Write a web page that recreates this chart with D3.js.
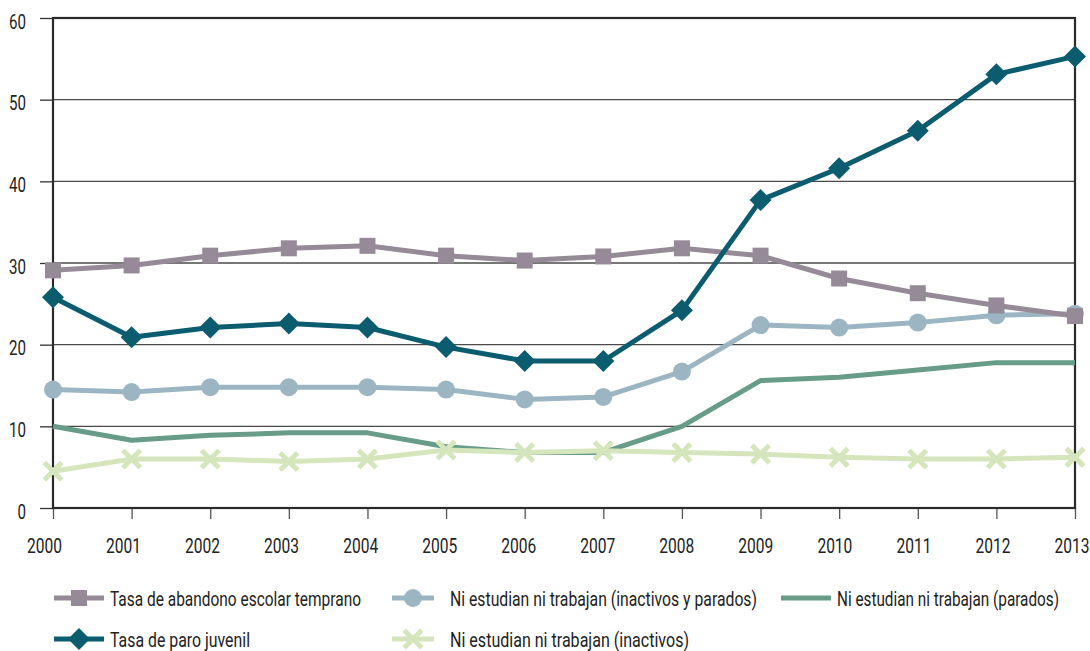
<!DOCTYPE html>
<html><head><meta charset="utf-8">
<script src="https://cdn.jsdelivr.net/npm/d3@7"></script>
<style>
html,body{margin:0;padding:0;background:#fff;}
svg text{font-family:Roboto,"DejaVu Sans Condensed",sans-serif;fill:#222;}
</style></head>
<body><svg id="c" width="1090" height="651"></svg>
<script>
const years = [2000,2001,2002,2003,2004,2005,2006,2007,2008,2009,2010,2011,2012,2013];
const yTicks = [0,10,20,30,40,50,60];
const abandono = [29.1,29.7,30.9,31.8,32.1,30.9,30.3,30.8,31.8,30.9,28.1,26.3,24.8,23.5];
const paro = [25.8,20.9,22.1,22.6,22.1,19.7,18.0,18.0,24.2,37.7,41.6,46.2,53.1,55.3];
const ninisTotal = [14.5,14.2,14.8,14.8,14.8,14.5,13.3,13.6,16.7,22.4,22.1,22.7,23.6,23.8];
const ninisParados = [10.0,8.3,8.9,9.2,9.2,7.5,6.8,6.8,10.0,15.6,16.0,16.9,17.8,17.8];
const ninisInactivos = [4.5,6.0,6.0,5.7,6.0,7.1,6.8,7.0,6.8,6.6,6.2,6.0,6.0,6.2];
const seriesNames = ["Tasa de abandono escolar temprano","Ni estudian ni trabajan (inactivos y parados)","Ni estudian ni trabajan (parados)","Tasa de paro juvenil","Ni estudian ni trabajan (inactivos)"];

const series = [
  {name:seriesNames[2], values:ninisParados, color:"#679c88", marker:"none"},
  {name:seriesNames[4], values:ninisInactivos, color:"#d5e6bc", marker:"x"},
  {name:seriesNames[1], values:ninisTotal, color:"#9bb6c2", marker:"circle"},
  {name:seriesNames[0], values:abandono, color:"#978a98", marker:"square"},
  {name:seriesNames[3], values:paro, color:"#0b5c6e", marker:"diamond"}
];

const svg = d3.select("#c");
const L=53, R=1075, T=18, B=508;
const x = d3.scaleLinear().domain([2000,2013]).range([L,R]);
const xLabel = d3.scaleLinear().domain([2000,2013]).range([44.5,1072]);
const y = d3.scaleLinear().domain([0,60]).range([B,T]);

// gridlines
svg.append("g").selectAll("line").data(yTicks.filter(d=>d>0&&d<60)).join("line")
  .attr("x1",L).attr("x2",R).attr("y1",d=>y(d)).attr("y2",d=>y(d))
  .attr("stroke","#4a4a4a").attr("stroke-width",1.3);

// y axis
const yAxis = svg.append("g").attr("transform",`translate(${L},0)`)
  .call(d3.axisLeft(y).tickValues(yTicks).tickSize(13).tickPadding(14).tickFormat(d3.format("d")));
yAxis.select(".domain").remove();
yAxis.selectAll(".tick line").attr("stroke","#333").attr("stroke-width",1.3);
yAxis.selectAll("text").attr("font-size",21).attr("fill","#2a2a2a").attr("dy","0.48em")
  .attr("textLength",d=>String(d).length*8.5).attr("lengthAdjust","spacingAndGlyphs");

// x axis (ticks)
const xAxis = svg.append("g").attr("transform",`translate(0,${B})`)
  .call(d3.axisBottom(x).tickValues(years).tickSize(11).tickFormat(""));
xAxis.select(".domain").remove();
xAxis.selectAll(".tick line").attr("stroke","#555").attr("stroke-width",1.3);
// x labels
svg.append("g").selectAll("text").data(years).join("text")
  .attr("x",d=>xLabel(d)).attr("y",553).attr("text-anchor","middle")
  .attr("font-size",21).attr("fill","#2a2a2a")
  .attr("textLength",35).attr("lengthAdjust","spacingAndGlyphs")
  .text(d=>d);

// frame
svg.append("rect").attr("x",L).attr("y",T).attr("width",R-L).attr("height",B-T)
  .attr("fill","none").attr("stroke","#2a2a2a").attr("stroke-width",2.2);

const line = d3.line().x((d,i)=>x(years[i])).y(d=>y(d));

function drawMarker(g, type, cx, cy, color){
  if(type==="square"){
    const s=16;
    g.append("rect").attr("x",cx-s/2).attr("y",cy-s/2).attr("width",s).attr("height",s).attr("fill",color);
  } else if(type==="diamond"){
    const s=11;
    g.append("path").attr("d",`M${cx},${cy-s}L${cx+s},${cy}L${cx},${cy+s}L${cx-s},${cy}Z`).attr("fill",color);
  } else if(type==="circle"){
    g.append("circle").attr("cx",cx).attr("cy",cy).attr("r",9).attr("fill",color);
  } else if(type==="x"){
    const s=7;
    g.append("path").attr("d",`M${cx-s},${cy-s}L${cx+s},${cy+s}M${cx-s},${cy+s}L${cx+s},${cy-s}`)
      .attr("stroke",color).attr("stroke-width",5).attr("stroke-linecap","square");
  }
}

const plot = svg.append("g");
series.forEach(s=>{
  const g = plot.append("g");
  g.append("path").attr("d",line(s.values)).attr("fill","none").attr("stroke",s.color)
    .attr("stroke-width",5).attr("stroke-linejoin","round");
  if(s.marker!=="none"){
    s.values.forEach((v,i)=>drawMarker(g,s.marker,x(years[i]),y(v),s.color));
  }
});

// legend
const legendItems = [
  {s:series[3], lx:54, lw:50, tx:110, ly:598, tw:251},
  {s:series[2], lx:392, lw:42, tx:450, ly:598, tw:307},
  {s:series[0], lx:781, lw:50, tx:837, ly:598, tw:222},
  {s:series[4], lx:54, lw:50, tx:110, ly:639, tw:140},
  {s:series[1], lx:392, lw:42, tx:450, ly:639, tw:239}
];
const lg = svg.append("g");
legendItems.forEach(it=>{
  const g = lg.append("g");
  g.append("line").attr("x1",it.lx).attr("x2",it.lx+it.lw).attr("y1",it.ly).attr("y2",it.ly)
    .attr("stroke",it.s.color).attr("stroke-width",5);
  if(it.s.marker!=="none") drawMarker(g,it.s.marker,it.lx+it.lw/2,it.ly,it.s.color);
  g.append("text").attr("x",it.tx).attr("y",it.ly+1).attr("dy","0.36em")
    .attr("font-size",20).attr("fill","#2a2a2a").attr("textLength",it.tw).attr("lengthAdjust","spacingAndGlyphs")
    .text(it.s.name);
});
</script>
</body></html>
